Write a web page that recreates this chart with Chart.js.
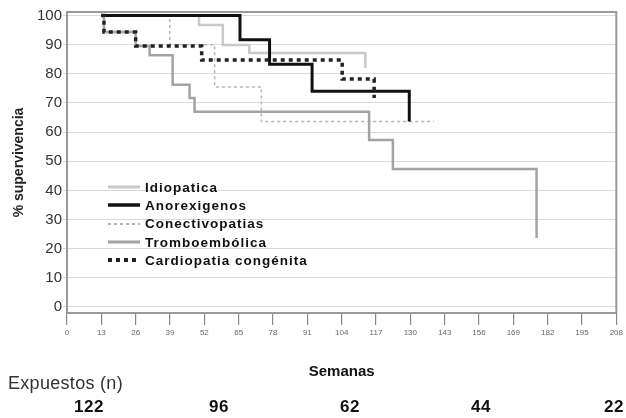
<!DOCTYPE html>
<html lang="es">

<head>
    <meta charset="UTF-8">
    <meta name="viewport" content="width=device-width, initial-scale=1.0">
    <title>Supervivencia</title>
    <style>
        body {
            margin: 0;
            background: #fff;
            font-family: "Liberation Sans", Arial, sans-serif;
        }

        .wrap {
            position: relative;
            width: 626px;
            height: 418px;
            overflow: hidden;
        }

        #km {
            position: absolute;
            left: 0;
            top: 0;
        }

        .legend {
            position: absolute;
            left: 107px;
            top: 178px;
        }

        .legend .row {
            height: 18.3px;
            display: flex;
            align-items: center;
            font-weight: bold;
            font-size: 13.5px;
            letter-spacing: 1px;
            color: #111;
            white-space: nowrap;
        }

        .legend svg {
            width: 34px;
            height: 8px;
            margin-right: 4px;
        }

        .expuestos {
            position: absolute;
            left: 8px;
            top: 373px;
            font-size: 18px;
            letter-spacing: 0.3px;
            color: #333;
        }

        .num {
            position: absolute;
            top: 397px;
            font-size: 17px;
            font-weight: bold;
            letter-spacing: 0.5px;
            color: #111;
            transform: translateX(-50%);
        }
    </style>
</head>

<body>
    <div class="wrap">
        <canvas id="km" width="626" height="418"></canvas>
        <div class="legend" id="legend"></div>
        <div class="expuestos">Expuestos (n)</div>
        <div id="nums"></div>
    </div>

    <script src="https://cdn.jsdelivr.net/npm/chart.js@4.4.4/dist/chart.umd.min.js"></script>
    <script>
        // ticks
        const xTicks = [0, 13, 26, 39, 52, 65, 78, 91, 104, 117, 130, 143, 156, 169, 182, 195, 208];
        const yTicks = [0, 10, 20, 30, 40, 50, 60, 70, 80, 90, 100];

        // Kaplan-Meier curves (semanas, % supervivencia)
        const idioWeeks = [13, 50, 59, 69, 113];
        const idioSurv = [100, 96.7, 89.9, 87.1, 82];

        const anoWeeks = [13, 65.5, 76.7, 92.8, 129.6];
        const anoSurv = [100, 91.7, 83.3, 74, 63.6];

        const conWeeks = [13, 38.9, 55.9, 73.6, 139];
        const conSurv = [100, 90, 75.5, 63.6, 63.6];

        const tromWeeks = [13, 14, 26, 31.3, 40, 46.4, 48.3, 114.4, 123.4, 177.8];
        const tromSurv = [100, 94.3, 89.5, 86.4, 76.2, 71.7, 67, 57.3, 47.3, 23.7];

        const cardWeeks = [13, 14, 26, 51, 104.2, 116.3];
        const cardSurv = [100, 94.3, 89.5, 84.7, 78.2, 71.7];

        // numero de expuestos bajo el eje
        const expuestos = [122, 96, 62, 44, 22];
        const expuestosX = [89, 219, 350, 481, 614];

        function pts(w, s) {
            return w.map((v, i) => ({ x: v, y: s[i] }));
        }

        // z: lower is drawn on top
        const series = [
            { label: 'Idiopatica', data: pts(idioWeeks, idioSurv), color: '#c9c9c9', width: 2.5, dash: [], z: 5 },
            { label: 'Anorexigenos', data: pts(anoWeeks, anoSurv), color: '#111', width: 3, dash: [], z: 2 },
            { label: 'Conectivopatias', data: pts(conWeeks, conSurv), color: '#b5b5b5', width: 1.5, dash: [3, 3], z: 4 },
            { label: 'Tromboembólica', data: pts(tromWeeks, tromSurv), color: '#a3a3a3', width: 2.5, dash: [], z: 3 },
            { label: 'Cardiopatia congénita', data: pts(cardWeeks, cardSurv), color: '#222', width: 3.5, dash: [4, 4], z: 1 }
        ];

        // marco del area de grafico
        const frame = {
            id: 'frame',
            afterDatasetsDraw(chart) {
                const a = chart.chartArea;
                const ctx = chart.ctx;
                ctx.save();
                ctx.strokeStyle = '#9a9a9a';
                ctx.lineWidth = 2;
                ctx.beginPath();
                ctx.moveTo(a.left, a.top);
                ctx.lineTo(a.right, a.top);
                ctx.lineTo(a.right, a.bottom);
                ctx.stroke();
                ctx.restore();
            }
        };

        const ctx = document.getElementById('km').getContext('2d');
        new Chart(ctx, {
            type: 'line',
            data: {
                datasets: series.map(s => ({
                    label: s.label,
                    data: s.data,
                    borderColor: s.color,
                    borderWidth: s.width,
                    borderDash: s.dash,
                    order: s.z,
                    stepped: true,
                    pointRadius: 0,
                    fill: false
                }))
            },
            options: {
                responsive: false,
                animation: false,
                layout: { padding: { top: 12, right: 8, left: 0, bottom: 0 } },
                plugins: {
                    legend: { display: false },
                    tooltip: { enabled: false }
                },
                scales: {
                    x: {
                        type: 'linear',
                        min: 0,
                        max: 208,
                        afterBuildTicks: s => { s.ticks = xTicks.map(v => ({ value: v })); },
                        afterFit: s => { s.height = 105; },
                        grid: { drawOnChartArea: false, tickLength: 12, color: '#8a8a8a', lineWidth: 1.2 },
                        border: { color: '#9a9a9a', width: 2 },
                        ticks: {
                            font: { family: 'Liberation Sans', size: 8 },
                            color: '#666',
                            padding: 3,
                            maxRotation: 0,
                            autoSkip: false
                        },
                        title: {
                            display: true,
                            text: 'Semanas',
                            font: { family: 'Liberation Sans', size: 15, weight: 'bold' },
                            color: '#111',
                            padding: { top: 0, bottom: 37 }
                        }
                    },
                    y: {
                        min: -2.06,
                        max: 101.2,
                        afterBuildTicks: s => { s.ticks = yTicks.map(v => ({ value: v })); },
                        afterFit: s => { s.width = 67; },
                        grid: { color: '#dadada', tickLength: 4 },
                        border: { color: '#9a9a9a', width: 2 },
                        ticks: {
                            font: { family: 'Liberation Sans', size: 15 },
                            color: '#333',
                            padding: 1
                        },
                        title: {
                            display: true,
                            text: '% supervivencia',
                            font: { family: 'Liberation Sans', size: 14, weight: 'bold' },
                            color: '#222',
                            padding: { top: 11, bottom: 0 }
                        }
                    }
                }
            },
            plugins: [frame]
        });

        // leyenda dentro del area
        const legend = document.getElementById('legend');
        series.forEach(s => {
            const row = document.createElement('div');
            row.className = 'row';
            row.innerHTML = '<svg viewBox="0 0 34 8"><line x1="1" y1="4" x2="33" y2="4" stroke="' + s.color +
                '" stroke-width="' + (s.width + 0.5) + '" stroke-dasharray="' + s.dash.join(',') + '"/></svg>';
            const t = document.createElement('span');
            t.textContent = s.label;
            row.appendChild(t);
            legend.appendChild(row);
        });

        const nums = document.getElementById('nums');
        expuestos.forEach((n, i) => {
            const d = document.createElement('div');
            d.className = 'num';
            d.style.left = expuestosX[i] + 'px';
            d.textContent = n;
            nums.appendChild(d);
        });
    </script>
</body>

</html>
